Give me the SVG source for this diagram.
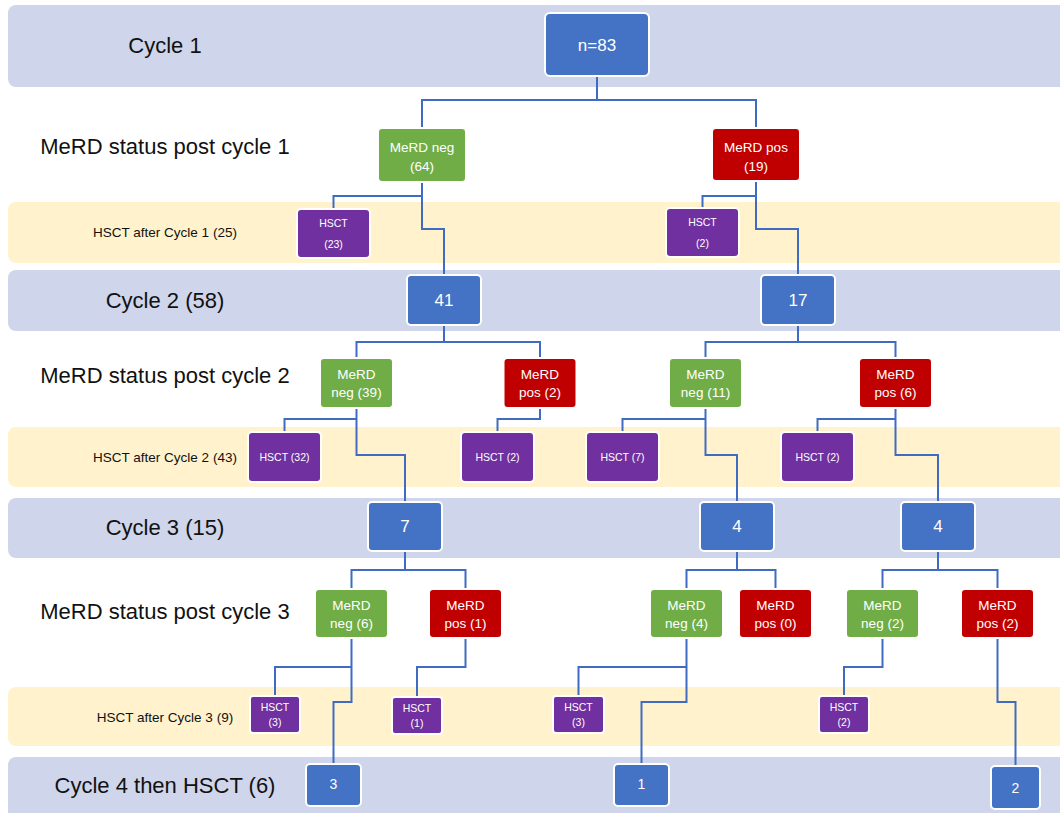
<svg xmlns="http://www.w3.org/2000/svg" width="1060" height="813" viewBox="0 0 1060 813">
<style>
.band{fill:#CFD5EA}
.ybd{fill:#FFF2CC}
.lbl{font-family:"Liberation Sans",Arial,sans-serif;font-size:22px;fill:#111;text-anchor:middle}
.slbl{font-family:"Liberation Sans",Arial,sans-serif;font-size:13.5px;fill:#111;text-anchor:middle}
.nd{stroke:#fff;stroke-width:2}
.blue{fill:#4472C4}
.green{fill:#70AD47}
.red{fill:#C00000}
.purple{fill:#7030A0}
.t{font-family:"Liberation Sans",Arial,sans-serif;fill:#fff;text-anchor:middle}
.tb{font-size:17px}
.tm{font-size:13.5px}
.ts{font-size:10.5px}
.tc4{font-size:14px}
.con path{fill:none;stroke:#3F6CC2;stroke-width:2}
</style>
<g id="bands">
<rect class="band" x="8" y="5" width="1070" height="82" rx="8"/>
<rect class="ybd" x="8" y="202" width="1070" height="61" rx="8"/>
<rect class="band" x="8" y="270" width="1070" height="61" rx="8"/>
<rect class="ybd" x="8" y="427" width="1070" height="60" rx="8"/>
<rect class="band" x="8" y="498" width="1070" height="60" rx="8"/>
<rect class="ybd" x="8" y="687" width="1070" height="59" rx="8"/>
<rect class="band" x="8" y="757" width="1070" height="70" rx="8"/>
</g>
<g id="labels">
<text class="lbl" x="165" y="53">Cycle 1</text>
<text class="lbl" x="165" y="154">MeRD status post cycle 1</text>
<text class="slbl" x="165" y="237">HSCT after Cycle 1 (25)</text>
<text class="lbl" x="165" y="308">Cycle 2 (58)</text>
<text class="lbl" x="165" y="383">MeRD status post cycle 2</text>
<text class="slbl" x="165" y="462">HSCT after Cycle 2 (43)</text>
<text class="lbl" x="165" y="535">Cycle 3 (15)</text>
<text class="lbl" x="165" y="619">MeRD status post cycle 3</text>
<text class="slbl" x="165" y="722">HSCT after Cycle 3 (9)</text>
<text class="lbl" x="165" y="793">Cycle 4 then HSCT (6)</text>
</g>
<g id="connectors" class="con">
<path d="M597,76V100 M422,128V100H756V128"/>
<path d="M422,182V229H444V275 M422,196H333.5V209"/>
<path d="M756,181V229H798V275 M756,196H702.5V208"/>
<path d="M444,325V342 M356.5,358V342H540V358"/>
<path d="M798,325V342 M705.5,358V342H895.5V358"/>
<path d="M356.5,408V455H405V502 M356.5,419H284.5V432"/>
<path d="M540,408V419H497.5V432"/>
<path d="M705.5,408V455H737V502 M705.5,419H622.5V432"/>
<path d="M895.5,408V455H938V502 M895.5,419H817.5V432"/>
<path d="M405,551V570 M351.5,589V570H465.5V589"/>
<path d="M737,551V570 M686.5,589V570H775.5V589"/>
<path d="M938,551V570 M882.5,589V570H997.5V589"/>
<path d="M351.5,638V702H333.5V764 M351.5,667H275V696"/>
<path d="M465.5,638V667H417V697"/>
<path d="M686.5,638V702H641.5V764 M686.5,667H578.5V696"/>
<path d="M882.5,638V667H844V696"/>
<path d="M997.5,638V702H1015.5V766"/>
</g>
<g id="n83"><rect class="nd blue" x="545" y="13" width="104" height="63" rx="5"/><text class="t tb" x="597" y="51">n=83</text></g>
<g id="neg64"><rect class="nd green" x="378" y="128" width="88" height="54" rx="4"/><text class="t tm" x="422" y="152">MeRD neg</text><text class="t tm" x="422" y="171">(64)</text></g>
<g id="pos19"><rect class="nd red" x="712" y="128" width="88" height="53" rx="4"/><text class="t tm" x="756" y="152">MeRD pos</text><text class="t tm" x="756" y="171">(19)</text></g>
<g id="hsct23"><rect class="nd purple" x="297" y="209" width="73" height="49" rx="4"/><text class="t ts" x="333.5" y="227">HSCT</text><text class="t ts" x="333.5" y="248">(23)</text></g>
<g id="hsct2a"><rect class="nd purple" x="666" y="208" width="73" height="49" rx="4"/><text class="t ts" x="702.5" y="226">HSCT</text><text class="t ts" x="702.5" y="247">(2)</text></g>
<g id="c41"><rect class="nd blue" x="407" y="275" width="74" height="50" rx="4"/><text class="t tb" x="444" y="306">41</text></g>
<g id="c17"><rect class="nd blue" x="761" y="275" width="74" height="50" rx="4"/><text class="t tb" x="798" y="306">17</text></g>
<g id="neg39"><rect class="nd green" x="320" y="358" width="73" height="50" rx="4"/><text class="t tm" x="356.5" y="379">MeRD</text><text class="t tm" x="356.5" y="397">neg (39)</text></g>
<g id="pos2"><rect class="nd red" x="503.5" y="358" width="73" height="50" rx="4"/><text class="t tm" x="540" y="379">MeRD</text><text class="t tm" x="540" y="397">pos (2)</text></g>
<g id="neg11"><rect class="nd green" x="669" y="358" width="73" height="50" rx="4"/><text class="t tm" x="705.5" y="379">MeRD</text><text class="t tm" x="705.5" y="397">neg (11)</text></g>
<g id="pos6"><rect class="nd red" x="859" y="358" width="73" height="50" rx="4"/><text class="t tm" x="895.5" y="379">MeRD</text><text class="t tm" x="895.5" y="397">pos (6)</text></g>
<g id="hsct32"><rect class="nd purple" x="248" y="432" width="73" height="50" rx="4"/><text class="t ts" x="284.5" y="461">HSCT (32)</text></g>
<g id="hsct2b"><rect class="nd purple" x="461" y="432" width="73" height="50" rx="4"/><text class="t ts" x="497.5" y="461">HSCT (2)</text></g>
<g id="hsct7"><rect class="nd purple" x="586" y="432" width="73" height="50" rx="4"/><text class="t ts" x="622.5" y="461">HSCT (7)</text></g>
<g id="hsct2c"><rect class="nd purple" x="781" y="432" width="73" height="50" rx="4"/><text class="t ts" x="817.5" y="461">HSCT (2)</text></g>
<g id="c7"><rect class="nd blue" x="368" y="502" width="74" height="49" rx="4"/><text class="t tb" x="405" y="532">7</text></g>
<g id="c4a"><rect class="nd blue" x="700" y="502" width="74" height="49" rx="4"/><text class="t tb" x="737" y="532">4</text></g>
<g id="c4b"><rect class="nd blue" x="901" y="502" width="74" height="49" rx="4"/><text class="t tb" x="938" y="532">4</text></g>
<g id="neg6"><rect class="nd green" x="315" y="589" width="73" height="49" rx="4"/><text class="t tm" x="351.5" y="610">MeRD</text><text class="t tm" x="351.5" y="628">neg (6)</text></g>
<g id="pos1"><rect class="nd red" x="429" y="589" width="73" height="49" rx="4"/><text class="t tm" x="465.5" y="610">MeRD</text><text class="t tm" x="465.5" y="628">pos (1)</text></g>
<g id="neg4"><rect class="nd green" x="650" y="589" width="73" height="49" rx="4"/><text class="t tm" x="686.5" y="610">MeRD</text><text class="t tm" x="686.5" y="628">neg (4)</text></g>
<g id="pos0"><rect class="nd red" x="739" y="589" width="73" height="49" rx="4"/><text class="t tm" x="775.5" y="610">MeRD</text><text class="t tm" x="775.5" y="628">pos (0)</text></g>
<g id="neg2"><rect class="nd green" x="846" y="589" width="73" height="49" rx="4"/><text class="t tm" x="882.5" y="610">MeRD</text><text class="t tm" x="882.5" y="628">neg (2)</text></g>
<g id="pos2r"><rect class="nd red" x="961" y="589" width="73" height="49" rx="4"/><text class="t tm" x="997.5" y="610">MeRD</text><text class="t tm" x="997.5" y="628">pos (2)</text></g>
<g id="hsct3a"><rect class="nd purple" x="250" y="696" width="50" height="37" rx="3"/><text class="t ts" x="275" y="711">HSCT</text><text class="t ts" x="275" y="726">(3)</text></g>
<g id="hsct1"><rect class="nd purple" x="392" y="697" width="50" height="37" rx="3"/><text class="t ts" x="417" y="712">HSCT</text><text class="t ts" x="417" y="727">(1)</text></g>
<g id="hsct3b"><rect class="nd purple" x="553" y="696" width="51" height="37" rx="3"/><text class="t ts" x="578.5" y="711">HSCT</text><text class="t ts" x="578.5" y="726">(3)</text></g>
<g id="hsct2d"><rect class="nd purple" x="819" y="696" width="50" height="37" rx="3"/><text class="t ts" x="844" y="711">HSCT</text><text class="t ts" x="844" y="726">(2)</text></g>
<g id="c3"><rect class="nd blue" x="306" y="764" width="55" height="42" rx="4"/><text class="t tc4" x="333.5" y="789">3</text></g>
<g id="c1"><rect class="nd blue" x="614" y="764" width="55" height="42" rx="4"/><text class="t tc4" x="641.5" y="789">1</text></g>
<g id="c2"><rect class="nd blue" x="991" y="766" width="49" height="43" rx="4"/><text class="t tc4" x="1015.5" y="793">2</text></g>
</svg>
